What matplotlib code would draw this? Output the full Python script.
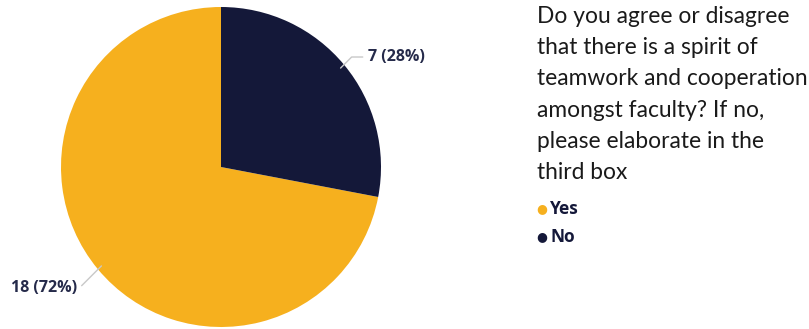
import numpy as np
import matplotlib.pyplot as plt

answers = ["Yes", "No"]
counts = [18, 7]
colors = ["#F6B01E", "#141839"]
question = ("Do you agree or disagree\nthat there is a spirit of\nteamwork and cooperation\n"
            "amongst faculty? If no,\nplease elaborate in the\nthird box")

W, H = 809, 329
fig = plt.figure(figsize=(W / 100, H / 100), dpi=100)

# pie area: centre (221,167) px, radius 160 px
cx, cy, r = 221, 167, 160
ax = fig.add_axes([(cx - r) / W, (H - cy - r) / H, 2 * r / W, 2 * r / H])
total = sum(counts)
wedges, _ = ax.pie(counts, colors=colors, startangle=90, counterclock=True,
                   radius=1, wedgeprops=dict(linewidth=0))
ax.set_xlim(-1, 1)
ax.set_ylim(-1, 1)
ax.set_aspect("equal")
ax.axis("off")

# data labels with leader lines
for w, n in zip(wedges, counts):
    mid = np.deg2rad((w.theta1 + w.theta2) / 2)
    x, y = np.cos(mid), np.sin(mid)
    txt = f"{n} ({round(100 * n / total)}%)"
    if x > 0:
        xt, yt, ha = x + 0.15, y + 0.05, "left"
    else:
        xt, yt, ha = x - 0.13, y - 0.12, "right"
    ax.annotate(txt, xy=(x * 0.97, y * 0.97), xytext=(xt, yt), ha=ha, va="center",
                fontsize=11.5, fontweight="bold", color="#252A4A", family="Open Sans",
                arrowprops=dict(arrowstyle="-", color="#C8C8C8", lw=1,
                                connectionstyle="angle,angleA=0,angleB=45,rad=0",
                                shrinkA=2, shrinkB=0),
                annotation_clip=False)

fig.text(537 / W, 1 - 6 / H, question, ha="left", va="top", fontsize=16.4,
         family="Lato", color="#1A1A1A", linespacing=1.6)

# legend
for i, (lab, c) in enumerate(zip(answers, colors)):
    yy = 1 - (209 + 28 * i) / H
    fig.text(542 / W, yy, "\u25CF", color=c, fontsize=9, ha="center", va="center")
    fig.text(550 / W, yy, lab, color="#141839", fontsize=12.5, fontweight="bold",
             family="Open Sans", ha="left", va="center")

fig.savefig("out.png", dpi=100)
